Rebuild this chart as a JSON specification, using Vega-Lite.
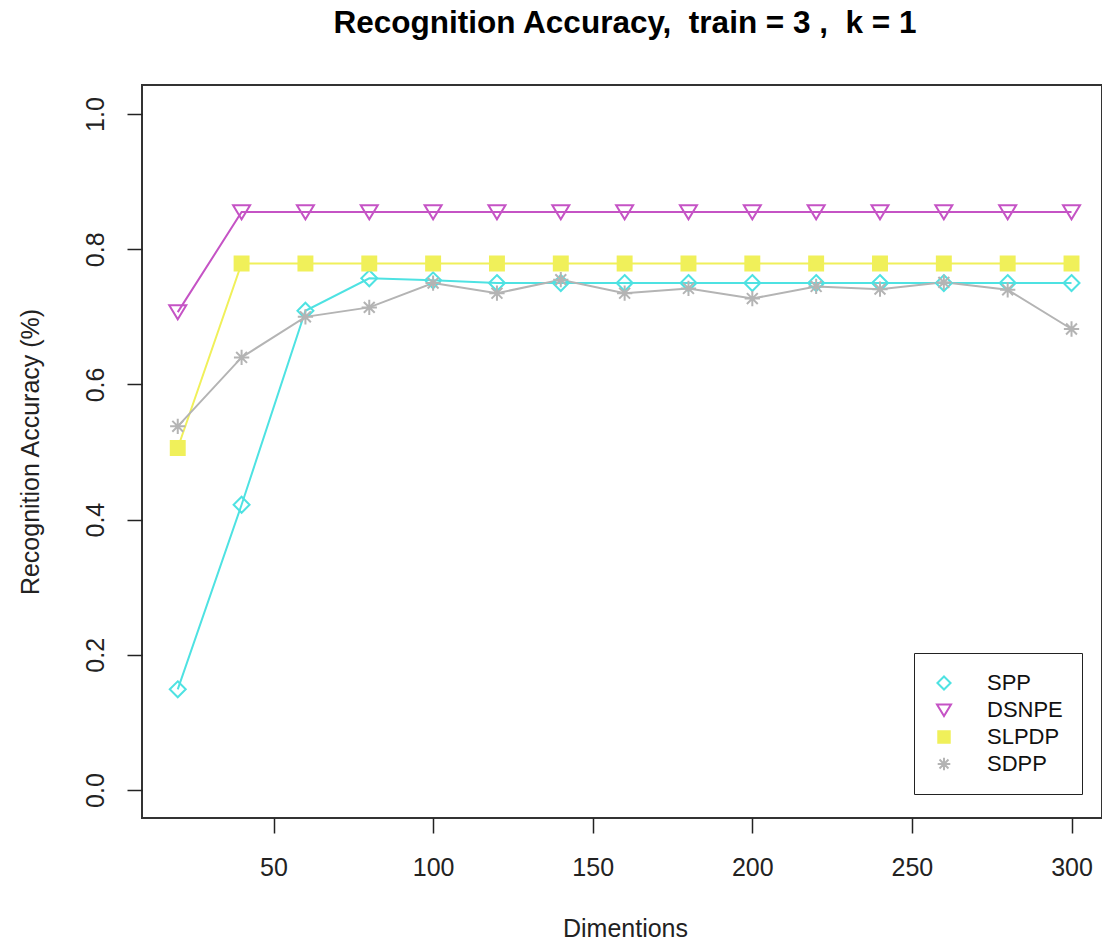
{
  "$schema": "https://vega.github.io/schema/vega-lite/v6.json",
  "width": 960,
  "height": 733,
  "autosize": {"type": "none"},
  "padding": {"left": 142, "top": 85, "right": 0, "bottom": 125},
  "background": "white",
  "config": {"view": {"stroke": "#333", "strokeWidth": 2}, "font": "Liberation Sans"},
  "title": {"text": "Recognition Accuracy,\u00a0 train = 3 ,\u00a0 k = 1", "fontSize": 31.5, "fontWeight": "bold", "font": "Liberation Sans", "color": "black", "anchor": "middle", "frame": "group", "offset": 46, "dx": 3},
  "data": {"values": [
    {"dim": 20, "method": "SPP", "acc": 0.149},
    {"dim": 40, "method": "SPP", "acc": 0.422},
    {"dim": 60, "method": "SPP", "acc": 0.709},
    {"dim": 80, "method": "SPP", "acc": 0.757},
    {"dim": 100, "method": "SPP", "acc": 0.754},
    {"dim": 120, "method": "SPP", "acc": 0.75},
    {"dim": 140, "method": "SPP", "acc": 0.75},
    {"dim": 160, "method": "SPP", "acc": 0.75},
    {"dim": 180, "method": "SPP", "acc": 0.75},
    {"dim": 200, "method": "SPP", "acc": 0.75},
    {"dim": 220, "method": "SPP", "acc": 0.75},
    {"dim": 240, "method": "SPP", "acc": 0.75},
    {"dim": 260, "method": "SPP", "acc": 0.75},
    {"dim": 280, "method": "SPP", "acc": 0.75},
    {"dim": 300, "method": "SPP", "acc": 0.75},
    {"dim": 20, "method": "DSNPE", "acc": 0.707},
    {"dim": 40, "method": "DSNPE", "acc": 0.855},
    {"dim": 60, "method": "DSNPE", "acc": 0.855},
    {"dim": 80, "method": "DSNPE", "acc": 0.855},
    {"dim": 100, "method": "DSNPE", "acc": 0.855},
    {"dim": 120, "method": "DSNPE", "acc": 0.855},
    {"dim": 140, "method": "DSNPE", "acc": 0.855},
    {"dim": 160, "method": "DSNPE", "acc": 0.855},
    {"dim": 180, "method": "DSNPE", "acc": 0.855},
    {"dim": 200, "method": "DSNPE", "acc": 0.855},
    {"dim": 220, "method": "DSNPE", "acc": 0.855},
    {"dim": 240, "method": "DSNPE", "acc": 0.855},
    {"dim": 260, "method": "DSNPE", "acc": 0.855},
    {"dim": 280, "method": "DSNPE", "acc": 0.855},
    {"dim": 300, "method": "DSNPE", "acc": 0.855},
    {"dim": 20, "method": "SLPDP", "acc": 0.506},
    {"dim": 40, "method": "SLPDP", "acc": 0.779},
    {"dim": 60, "method": "SLPDP", "acc": 0.779},
    {"dim": 80, "method": "SLPDP", "acc": 0.779},
    {"dim": 100, "method": "SLPDP", "acc": 0.779},
    {"dim": 120, "method": "SLPDP", "acc": 0.779},
    {"dim": 140, "method": "SLPDP", "acc": 0.779},
    {"dim": 160, "method": "SLPDP", "acc": 0.779},
    {"dim": 180, "method": "SLPDP", "acc": 0.779},
    {"dim": 200, "method": "SLPDP", "acc": 0.779},
    {"dim": 220, "method": "SLPDP", "acc": 0.779},
    {"dim": 240, "method": "SLPDP", "acc": 0.779},
    {"dim": 260, "method": "SLPDP", "acc": 0.779},
    {"dim": 280, "method": "SLPDP", "acc": 0.779},
    {"dim": 300, "method": "SLPDP", "acc": 0.779},
    {"dim": 20, "method": "SDPP", "acc": 0.538},
    {"dim": 40, "method": "SDPP", "acc": 0.64},
    {"dim": 60, "method": "SDPP", "acc": 0.70},
    {"dim": 80, "method": "SDPP", "acc": 0.714},
    {"dim": 100, "method": "SDPP", "acc": 0.75},
    {"dim": 120, "method": "SDPP", "acc": 0.735},
    {"dim": 140, "method": "SDPP", "acc": 0.755},
    {"dim": 160, "method": "SDPP", "acc": 0.735},
    {"dim": 180, "method": "SDPP", "acc": 0.742},
    {"dim": 200, "method": "SDPP", "acc": 0.727},
    {"dim": 220, "method": "SDPP", "acc": 0.745},
    {"dim": 240, "method": "SDPP", "acc": 0.741},
    {"dim": 260, "method": "SDPP", "acc": 0.751},
    {"dim": 280, "method": "SDPP", "acc": 0.74},
    {"dim": 300, "method": "SDPP", "acc": 0.682}
  ]},
  "encoding": {
    "x": {"field": "dim", "type": "quantitative",
      "scale": {"domain": [8.8, 309.55], "nice": false, "zero": false},
      "axis": {"values": [50, 100, 150, 200, 250, 300], "domain": false, "grid": false, "tickSize": 15, "tickColor": "#222", "tickWidth": 1.5,
        "labelFontSize": 25, "labelFont": "Liberation Sans", "labelColor": "#222", "labelPadding": 22, "labelFlush": false, "labelOverlap": false,
        "title": "Dimentions", "titleFontSize": 25, "titleFont": "Liberation Sans", "titleFontWeight": "normal", "titleColor": "#222",
        "titleY": 118, "titleBaseline": "alphabetic", "titleX": 483, "titleAnchor": "middle"}},
    "y": {"field": "acc", "type": "quantitative",
      "scale": {"domain": [-0.0414, 1.043], "nice": false, "zero": false},
      "axis": {"values": [0, 0.2, 0.4, 0.6, 0.8, 1.0], "format": ".1f", "domain": false, "grid": false, "tickSize": 15, "tickColor": "#222", "tickWidth": 1.5,
        "labelFontSize": 25, "labelFont": "Liberation Sans", "labelColor": "#222", "labelPadding": 24, "labelAngle": -90, "labelAlign": "center", "labelBaseline": "alphabetic", "labelFlush": false, "labelOverlap": false,
        "title": "Recognition Accuracy (%)", "titleFontSize": 25, "titleFont": "Liberation Sans", "titleFontWeight": "normal", "titleColor": "#222",
        "titleX": -104, "titleY": 366.5, "titleAngle": -90, "titleAlign": "center", "titleBaseline": "alphabetic"}}
  },
  "layer": [
    {
      "mark": {"type": "line"},
      "encoding": {
        "stroke": {"field": "method", "type": "nominal",
          "scale": {"domain": ["SPP", "DSNPE", "SLPDP", "SDPP"], "range": ["#4ee2e2", "#c553c5", "#f0f05a", "#b4b4b4"]}},
        "strokeWidth": {"field": "method", "type": "nominal",
          "scale": {"domain": ["SPP", "DSNPE", "SLPDP", "SDPP"], "range": [2, 2, 2, 1.5]}, "legend": null}
      }
    },
    {
      "mark": {"type": "point", "filled": true, "size": 289, "strokeWidth": 2, "opacity": 1},
      "encoding": {
        "stroke": {"field": "method", "type": "nominal",
          "scale": {"domain": ["SPP", "DSNPE", "SLPDP", "SDPP"], "range": ["#4ee2e2", "#c553c5", "#f0f05a", "#b4b4b4"]},
          "legend": {"title": null, "orient": "none", "legendX": 772, "legendY": 568, "padding": 19,
            "strokeColor": "#222", "fillColor": "white", "symbolSize": 196, "symbolStrokeWidth": 2,
            "labelFontSize": 22, "labelFont": "Liberation Sans", "labelColor": "#111", "labelOffset": 32, "rowPadding": 5}},
        "shape": {"field": "method", "type": "nominal",
          "scale": {"domain": ["SPP", "DSNPE", "SLPDP", "SDPP"], "range": ["M0,-0.94L0.94,0L0,0.94L-0.94,0Z", "M-1,-0.8L1,-0.8L0,0.85Z", "M-0.82,-0.82L0.82,-0.82L0.82,0.82L-0.82,0.82Z", "M-0.9,0L0.9,0M0,-0.9L0,0.9M-0.64,-0.64L0.64,0.64M-0.64,0.64L0.64,-0.64"]}},
        "fill": {"field": "method", "type": "nominal",
          "scale": {"domain": ["SPP", "DSNPE", "SLPDP", "SDPP"], "range": ["rgba(0,0,0,0)", "rgba(0,0,0,0)", "#f0f05a", "rgba(0,0,0,0)"]},
          "legend": null}
      }
    }
  ]
}
